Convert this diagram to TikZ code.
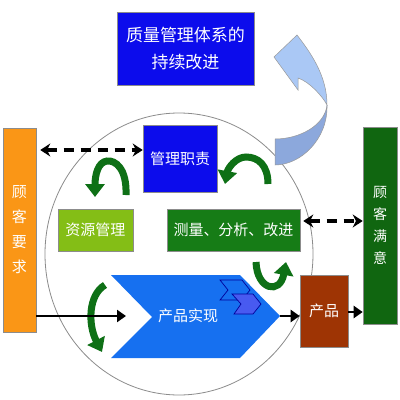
\documentclass[tikz,border=0pt]{standalone}
\usepackage{fontspec}
\setmainfont{Noto Sans CJK SC}
\usetikzlibrary{arrows.meta}
\definecolor{titleblue}{RGB}{12,12,236}
\definecolor{resgreen}{RGB}{132,190,22}
\definecolor{measgreen}{RGB}{22,124,22}
\definecolor{custorange}{RGB}{250,150,22}
\definecolor{satgreen}{RGB}{16,102,16}
\definecolor{prodbrown}{RGB}{158,52,4}
\definecolor{chevblue}{RGB}{22,112,240}
\definecolor{chevfront}{RGB}{72,90,240}
\definecolor{arrowgreen}{RGB}{14,112,22}
\definecolor{ribbonlight}{RGB}{170,200,245}
\definecolor{ribbondark}{RGB}{140,168,220}
\tikzset{
  box/.style={draw=black!45, line width=0.6pt, inner sep=0pt, text=white, align=center},
  bigtxt/.style={font=\fontsize{17}{27}\selectfont},
  midtxt/.style={font=\fontsize{15}{19}\selectfont},
  blackarrow/.style={draw=black, line width=2.8pt, -{Triangle[width=12pt,length=9pt]}},
  dasharrow/.style={draw=black, line width=3.6pt, dash pattern=on 10pt off 7pt, {Stealth[width=13pt,length=10pt]}-{Stealth[width=13pt,length=10pt]}},
  greenarrow/.style={draw=arrowgreen, line width=7pt, -{Triangle[width=19pt,length=13pt]}},
}
\begin{document}
\begin{tikzpicture}[x=1pt,y=-1pt]
\useasboundingbox (0,0) rectangle (400,400);
\fill[white] (0,0) rectangle (400,400);
% big circle
\draw[black!45, line width=0.8pt] (179,254) ellipse [x radius=134, y radius=141];
% ribbon arrow
\filldraw[fill=ribbonlight, draw=black!40, line width=0.5pt]
  (274,57) -- (297,35) .. controls (310,52) and (327,75) .. (327,105)
  .. controls (323,97) and (310,82) .. (298,78) -- (298,90) -- cycle;
\filldraw[fill=ribbondark, draw=black!40, line width=0.5pt]
  (327,105) .. controls (325,125) and (300,139) .. (275,139) -- (275,165)
  .. controls (300,165) and (328,140) .. (327,105) -- cycle;
% title
\node[box, bigtxt, fill=titleblue, minimum width=137pt, minimum height=73pt] (title) at (185.5,48.5) {质量管理体系的\\持续改进};
% boxes
\node[box, midtxt, fill=titleblue, minimum width=74pt, minimum height=67pt] (mgmt) at (180,158.5) {管理职责};
\node[box, midtxt, fill=resgreen, minimum width=75pt, minimum height=42pt] (res) at (95.5,230) {资源管理};
\node[box, midtxt, fill=measgreen, minimum width=133pt, minimum height=42pt] (meas) at (233.5,230) {测量、分析、改进};
\node[box, fill=custorange, minimum width=33pt, minimum height=204pt, font=\fontsize{15}{25}\selectfont] (cust) at (19.5,230) {顾\\客\\要\\求};
\node[box, fill=satgreen, minimum width=34pt, minimum height=197pt, font=\fontsize{14}{22}\selectfont] (sat) at (380,225.5) {顾\\客\\满\\意};
\node[box, midtxt, fill=prodbrown, minimum width=48pt, minimum height=72pt] (prod) at (324,311) {产品};
% chevron
\fill[chevblue] (111,275) -- (240,275) -- (280,316) -- (240,358) -- (111,358) -- (152,317) -- cycle;
\draw[draw=black!40!blue, line width=0.7pt, fill=chevblue] (220,280) -- (242,280) -- (250,290) -- (242,300) -- (220,300) -- (228,290) -- cycle;
\draw[draw=black!40!blue, line width=0.7pt, fill=chevfront] (232,294) -- (253,294) -- (261,304) -- (253,314) -- (234,314) -- (241,304) -- cycle;
\node[midtxt, text=white, inner sep=0pt] (real) at (188,316) {产品实现};
\coordinate (chin) at (126,316);
\coordinate (chtip) at (280,316);
% green curved arrows
\draw[greenarrow] (126,195) .. controls (127,168) and (115,160) .. (107,161) .. controls (98,162) and (95,175) .. (95,197);
\draw[greenarrow] (268,184) .. controls (268,165) and (258,157) .. (246,157) .. controls (236,157) and (228,168) .. (225,184);
\draw[greenarrow] (105,285) .. controls (88,295) and (88,325) .. (102,352);
\draw[greenarrow] (256,262) .. controls (257,290) and (280,295) .. (286,262);
% black arrows
\draw[blackarrow] (cust.east |- chin) -- (chin);
\draw[blackarrow] (chtip) -- (prod.west |- chtip);
\draw[blackarrow] (prod.east |- 0,312) -- (sat.west |- 0,312);
% dashed double arrows
\draw[dasharrow] (cust.east |- 0,150) ++(4,0) -- (mgmt.west |- 0,150);
\draw[dasharrow] (meas.east |- 0,221) ++(3,0) -- (sat.west |- 0,221);
\end{tikzpicture}
\end{document}
